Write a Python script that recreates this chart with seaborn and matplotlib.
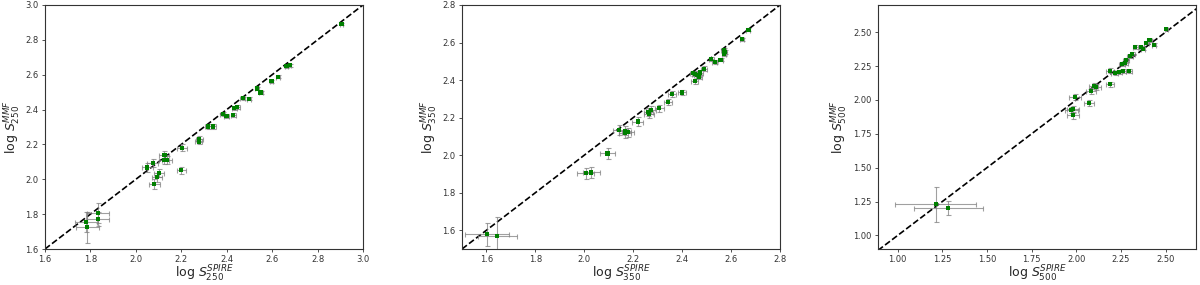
import numpy as np
import pandas as pd
import matplotlib
matplotlib.use('Agg')
import matplotlib.pyplot as plt
import seaborn as sns

''' values read off the reference picture '''

# 250 micron band
x250 = [2.905, 2.678, 2.663, 2.625, 2.597, 2.549, 2.535, 2.499, 2.470, 2.446, 2.433, 2.428,
        2.399, 2.382, 2.338, 2.318, 2.279, 2.277, 2.203, 2.200, 2.126, 2.138, 2.123, 2.074,
        2.050, 2.101, 2.094, 2.081, 1.833, 1.833, 1.780, 1.786]
y250 = [2.889, 2.654, 2.648, 2.589, 2.563, 2.498, 2.521, 2.463, 2.465, 2.417, 2.408, 2.368,
        2.362, 2.374, 2.303, 2.303, 2.230, 2.217, 2.181, 2.051, 2.141, 2.112, 2.112, 2.093,
        2.068, 2.035, 2.011, 1.974, 1.806, 1.772, 1.755, 1.724]
xe250 = [0.006, 0.007, 0.007, 0.008, 0.008, 0.009, 0.009, 0.010, 0.010, 0.011, 0.011, 0.011,
         0.012, 0.012, 0.014, 0.014, 0.016, 0.016, 0.020, 0.020, 0.022, 0.022, 0.022, 0.024,
         0.025, 0.023, 0.023, 0.024, 0.048, 0.048, 0.050, 0.050]
ye250 = [0.006, 0.007, 0.007, 0.008, 0.008, 0.009, 0.009, 0.010, 0.010, 0.011, 0.011, 0.011,
         0.012, 0.012, 0.014, 0.014, 0.016, 0.016, 0.020, 0.020, 0.022, 0.022, 0.022, 0.024,
         0.025, 0.023, 0.025, 0.027, 0.058, 0.040, 0.055, 0.090]

# 350 micron band
x350 = [2.671, 2.645, 2.570, 2.574, 2.571, 2.557, 2.533, 2.519, 2.488, 2.474, 2.462, 2.454,
        2.446, 2.468, 2.451, 2.400, 2.358, 2.341, 2.307, 2.273, 2.262, 2.264, 2.218, 2.180,
        2.166, 2.167, 2.141, 2.095, 2.028, 2.006, 1.644, 1.603]
y350 = [2.669, 2.617, 2.561, 2.548, 2.537, 2.509, 2.496, 2.514, 2.461, 2.440, 2.426, 2.433,
        2.436, 2.419, 2.394, 2.334, 2.326, 2.284, 2.250, 2.241, 2.229, 2.220, 2.179, 2.122,
        2.129, 2.117, 2.135, 2.009, 1.908, 1.904, 1.570, 1.578]
xe350 = [0.008, 0.008, 0.010, 0.010, 0.010, 0.010, 0.011, 0.011, 0.012, 0.012, 0.013, 0.013,
         0.013, 0.013, 0.013, 0.015, 0.016, 0.017, 0.018, 0.020, 0.020, 0.020, 0.022, 0.024,
         0.024, 0.024, 0.025, 0.030, 0.035, 0.035, 0.080, 0.090]
ye350 = [0.008, 0.008, 0.010, 0.010, 0.010, 0.010, 0.011, 0.011, 0.012, 0.012, 0.013, 0.013,
         0.013, 0.013, 0.013, 0.015, 0.016, 0.017, 0.018, 0.020, 0.020, 0.020, 0.022, 0.024,
         0.024, 0.024, 0.025, 0.030, 0.030, 0.030, 0.100, 0.060]

# 500 micron band
x500 = [2.504, 2.435, 2.410, 2.392, 2.373, 2.364, 2.330, 2.313, 2.299, 2.280, 2.271, 2.256,
        2.295, 2.261, 2.239, 2.215, 2.187, 2.190, 2.112, 2.097, 2.080, 2.071, 1.991, 1.981,
        1.972, 1.981, 1.213, 1.284]
y500 = [2.524, 2.407, 2.439, 2.419, 2.377, 2.390, 2.390, 2.341, 2.321, 2.297, 2.272, 2.262,
        2.211, 2.214, 2.204, 2.199, 2.214, 2.116, 2.096, 2.101, 2.064, 1.979, 2.023, 1.930,
        1.925, 1.886, 1.230, 1.203]
xe500 = [0.010, 0.012, 0.012, 0.013, 0.013, 0.013, 0.015, 0.015, 0.016, 0.017, 0.017, 0.018,
         0.017, 0.018, 0.019, 0.020, 0.022, 0.022, 0.026, 0.027, 0.028, 0.028, 0.034, 0.035,
         0.035, 0.035, 0.227, 0.193]
ye500 = [0.008, 0.010, 0.010, 0.010, 0.011, 0.011, 0.012, 0.012, 0.013, 0.014, 0.014, 0.015,
         0.014, 0.015, 0.015, 0.016, 0.018, 0.018, 0.020, 0.021, 0.022, 0.022, 0.024, 0.025,
         0.025, 0.025, 0.128, 0.054]

ticks250 = [1.6, 1.8, 2.0, 2.2, 2.4, 2.6, 2.8, 3.0]
ticks350 = [1.6, 1.8, 2.0, 2.2, 2.4, 2.6, 2.8]
ticks500 = [1.00, 1.25, 1.50, 1.75, 2.00, 2.25, 2.50]

bands = [('250', x250, y250, xe250, ye250, (1.6, 3.0), (1.6, 3.0), ticks250, '%.1f'),
         ('350', x350, y350, xe350, ye350, (1.5, 2.8), (1.5, 2.8), ticks350, '%.1f'),
         ('500', x500, y500, xe500, ye500, (0.89, 2.67), (0.9, 2.7), ticks500, '%.2f')]

sns.set_style('ticks')
plt.rcParams['font.family'] = ['DejaVu Sans']

fig = plt.figure(figsize=(12, 2.85), dpi=100)
lefts = [45 / 1200, 462 / 1200, 878 / 1200]

for left, (band, xs, ys, xe, ye, xlim, ylim, ticks, fmt) in zip(lefts, bands):
    ax = fig.add_axes([left, 36 / 285, 318 / 1200, 244 / 285])
    df = pd.DataFrame({'spire': xs, 'mmf': ys})
    ax.errorbar(df['spire'], df['mmf'], xerr=xe, yerr=ye, fmt='none',
                ecolor='gray', elinewidth=0.8, capsize=1.8, capthick=0.8, alpha=0.75, zorder=2)
    sns.scatterplot(data=df, x='spire', y='mmf', ax=ax, marker='s', s=9,
                    color='green', edgecolor='none', zorder=3)
    lo = min(xlim[0], ylim[0])
    hi = max(xlim[1], ylim[1])
    ax.plot([lo, hi], [lo, hi], 'k--', lw=1.2, zorder=1)
    ax.set_xlim(xlim)
    ax.set_ylim(ylim)
    ax.set_xticks(ticks)
    ax.set_yticks(ticks)
    ax.xaxis.set_major_formatter(matplotlib.ticker.FormatStrFormatter(fmt))
    ax.yaxis.set_major_formatter(matplotlib.ticker.FormatStrFormatter(fmt))
    ax.tick_params(labelsize=6, length=2.5, width=0.6, pad=2, colors='#333333')
    for sp in ax.spines.values():
        sp.set_linewidth(0.8)
        sp.set_color('#333333')
    ax.set_xlabel(r'log $S_{%s}^{SPIRE}$' % band, fontsize=9, labelpad=0)
    ax.set_ylabel(r'log $S_{%s}^{MMF}$' % band, fontsize=9, labelpad=2)

fig.savefig('out.png', dpi=100)
